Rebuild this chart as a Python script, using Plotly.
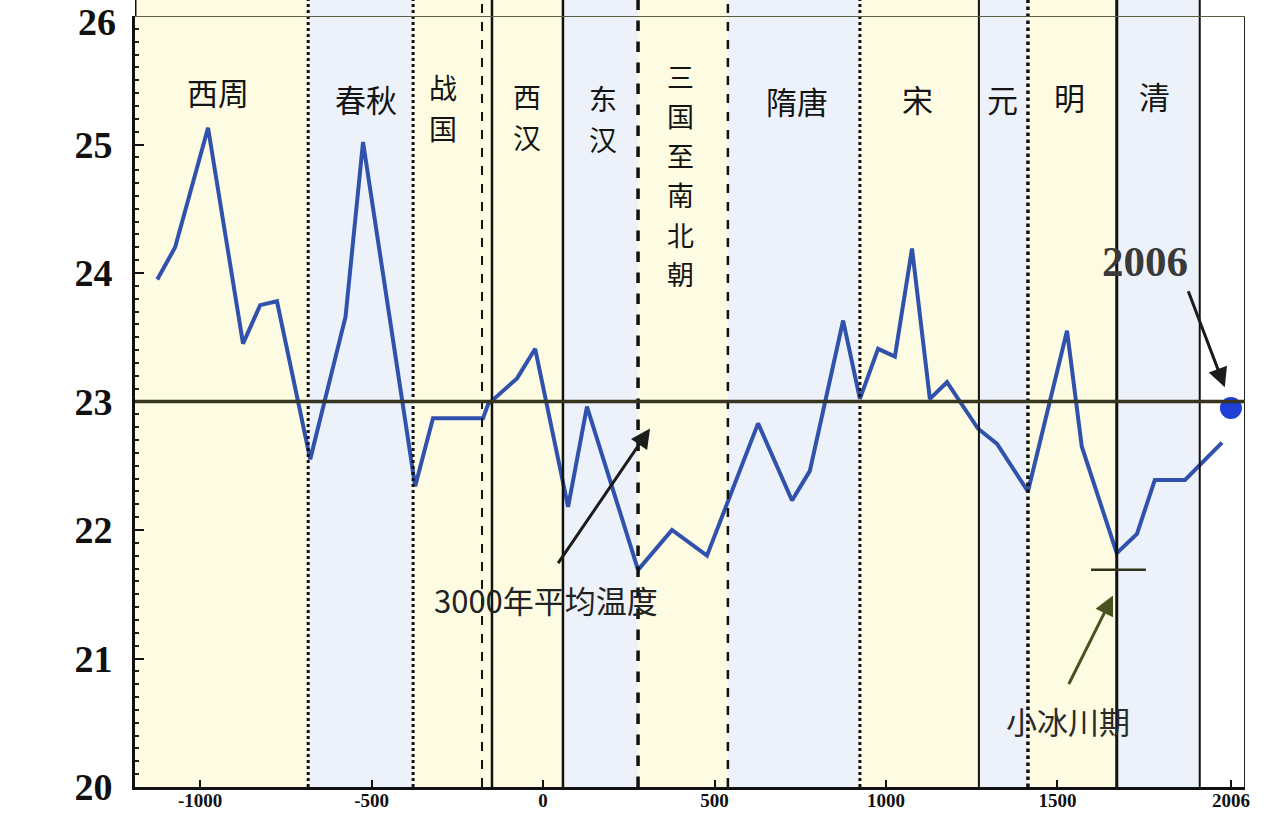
import plotly.graph_objects as go

# ---------------- data ----------------
years = [-1125, -1073, -977, -875, -825, -776, -679, -576, -525, -373, -321, -175, -160,
         -76, -23, 73, 128, 277, 376, 478, 627, 726, 778, 875, 924, 977, 1026, 1076,
         1128, 1178, 1268, 1324, 1414, 1528, 1571, 1673, 1732, 1784, 1872, 1980]
temps = [23.95, 24.20, 25.13, 23.45, 23.75, 23.78, 22.55, 23.66, 25.02, 22.34, 22.87, 22.87,
         22.98, 23.18, 23.41, 22.18, 22.96, 21.69, 22.00, 21.80, 22.83, 22.23, 22.46, 23.63,
         23.02, 23.41, 23.35, 24.19, 23.02, 23.15, 22.79, 22.67, 22.30, 23.55, 22.65, 21.82,
         21.97, 22.39, 22.39, 22.68]

point_2006_year = 2006
point_2006_temp = 22.95
mean_temp = 23.0
little_ice_age_temp = 21.69

periods = ["西周", "春秋", "战国", "西汉", "东汉", "三国至南北朝", "隋唐", "宋", "元", "明", "清"]
period_start = [-1190, -685, -379, -149, 58, 277, 539, 924, 1271, 1414, 1673]
period_end = [-685, -379, -149, 58, 277, 539, 924, 1271, 1414, 1673, 1915]
period_tone = ["y", "b", "y", "y", "b", "y", "b", "y", "b", "y", "b"]

x_tick_vals = [-1000, -500, 0, 500, 1000, 1500, 2006]
x_tick_text = ["-1000", "-500", "0", "500", "1000", "1500", "2006"]
y_tick_vals = [20, 21, 22, 23, 24, 25, 26]
y_tick_text = ["20", "21", "22", "23", "24", "25", "26"]

X_MIN, X_MAX = -1190, 2047
Y_MIN, Y_MAX = 20, 26

# ---------------- styles ----------------
YELLOW = "#FDFCE2"
BLUE = "#EDF2FA"
LINE_BLUE = "#3152AC"
CJK = "Noto Sans CJK SC"
SERIF = "Liberation Serif"
PX_PER_DEG = 128.5  # vertical pixels per degree in the plot area
TOP_PAD = 1 + 16 / 771  # paper fraction reaching the top edge of the figure

fig = go.Figure()

shapes = []
for s, e, t in zip(period_start, period_end, period_tone):
    shapes.append(dict(type="rect", xref="x", yref="paper", x0=s, x1=e, y0=0, y1=TOP_PAD,
                       fillcolor=YELLOW if t == "y" else BLUE, line=dict(width=0), layer="below"))

boundaries = [(-685, "dot", 3), (-379, "dot", 3), (-178, "dash", 2), (-149, "solid", 2.5),
              (58, "solid", 2.5), (277, "dash", 3.5), (539, "dash", 2.5), (924, "dot", 3),
              (1271, "solid", 2), (1414, "dot", 3.5), (1673, "solid", 3), (1915, "solid", 2)]
for bx, dsh, w in boundaries:
    shapes.append(dict(type="line", xref="x", yref="paper", x0=bx, x1=bx, y0=0, y1=TOP_PAD,
                       line=dict(color="#111111", width=w, dash=dsh)))

shapes.append(dict(type="line", xref="x", yref="paper", x0=X_MIN, x1=X_MIN, y0=1, y1=TOP_PAD,
                   line=dict(color="#111111", width=3)))
shapes.append(dict(type="line", xref="x", yref="y", x0=X_MAX, x1=X_MAX, y0=Y_MIN, y1=Y_MAX,
                   line=dict(color="#222222", width=2)))
shapes.append(dict(type="line", xref="x", yref="y", x0=X_MIN, x1=X_MAX, y0=Y_MAX, y1=Y_MAX,
                   line=dict(color="#5c5c40", width=2)))
shapes.append(dict(type="line", xref="x", yref="y", x0=X_MIN, x1=X_MAX, y0=mean_temp, y1=mean_temp,
                   line=dict(color="#37341f", width=3.5)))
shapes.append(dict(type="line", xref="x", yref="y", x0=1598, x1=1758,
                   y0=little_ice_age_temp, y1=little_ice_age_temp,
                   line=dict(color="#2f3318", width=2.5)))

fig.add_trace(go.Scatter(x=years, y=temps, mode="lines",
                         line=dict(color=LINE_BLUE, width=4), hoverinfo="x+y", showlegend=False))
fig.add_trace(go.Scatter(x=[point_2006_year], y=[point_2006_temp], mode="markers",
                         marker=dict(color="#1f3fd6", size=22), showlegend=False))

annotations = []
label_pos = {"西周": (-948, 25.41), "春秋": (-516, 25.36), "隋唐": (741, 25.34),
             "宋": (1093, 25.36), "元": (1341, 25.36), "明": (1536, 25.37), "清": (1784, 25.38)}
vlabel_pos = {"战国": (-292, 25.45, 41), "西汉": (-47, 25.38, 41), "东汉": (175, 25.36, 41),
              "三国至南北朝": (402, 25.53, 39.5)}
for name in periods:
    if name in label_pos:
        px, py = label_pos[name]
        annotations.append(dict(x=px, y=py, xref="x", yref="y", text=name, showarrow=False,
                                font=dict(family=CJK, size=31, color="#141414")))
    else:
        px, py, pitch = vlabel_pos[name]
        fs = 27 if len(name) > 2 else 28
        for i, ch in enumerate(name):
            annotations.append(dict(x=px, y=py - i * pitch / PX_PER_DEG, xref="x", yref="y",
                                    text=ch, showarrow=False,
                                    font=dict(family=CJK, size=fs, color="#141414")))

# top y tick label drawn as an annotation so that it stays inside the figure
annotations.append(dict(x=0, y=1, xref="paper", yref="paper", text=y_tick_text[-1],
                        xanchor="right", yanchor="top", xshift=-18, yshift=16, showarrow=False,
                        borderpad=0,
                        font=dict(family=SERIF, size=38, color="#111111", weight="bold")))

# arrows
annotations.append(dict(x=312, y=22.79, ax=41, ay=21.73, xref="x", yref="y", axref="x", ayref="y",
                        text="", showarrow=True, arrowhead=2, arrowsize=1.3, arrowwidth=3,
                        arrowcolor="#1c1c1c"))
annotations.append(dict(x=1988, y=23.11, ax=1880, ay=23.87, xref="x", yref="y", axref="x", ayref="y",
                        text="", showarrow=True, arrowhead=2, arrowsize=1.3, arrowwidth=3,
                        arrowcolor="#1c1c1c"))
annotations.append(dict(x=1662, y=21.49, ax=1531, ay=20.79, xref="x", yref="y", axref="x", ayref="y",
                        text="", showarrow=True, arrowhead=2, arrowsize=1.3, arrowwidth=3,
                        arrowcolor="#4a5222"))
annotations.append(dict(x=8, y=21.46, xref="x", yref="y", text="3000年平均温度", showarrow=False,
                        font=dict(family=CJK, size=31, color="#222222")))
annotations.append(dict(x=1755, y=24.09, xref="x", yref="y", text="2006", showarrow=False,
                        font=dict(family=SERIF, size=43, color="#3a3a3a", weight="bold")))
annotations.append(dict(x=1531, y=20.52, xref="x", yref="y", text="小冰川期", showarrow=False,
                        font=dict(family=CJK, size=31, color="#2a2a2a")))

fig.update_layout(
    width=1280, height=814,
    margin=dict(l=135, r=35, t=16, b=27),
    paper_bgcolor="white", plot_bgcolor="white",
    shapes=shapes, annotations=annotations,
    showlegend=False,
    xaxis=dict(range=[X_MIN, X_MAX], tickmode="array", tickvals=x_tick_vals, ticktext=x_tick_text,
               showgrid=False, zeroline=False, showline=True, linecolor="#111111", linewidth=2.5,
               ticks="inside", ticklen=7, tickwidth=2, tickcolor="#111111",
               ticklabelstandoff=-6,
               tickfont=dict(family=SERIF, size=19, color="#111111", weight="bold"),
               automargin=False),
    yaxis=dict(range=[Y_MIN, Y_MAX], tickmode="array", tickvals=y_tick_vals,
               ticktext=y_tick_text[:-1] + [""],
               showgrid=False, zeroline=False, showline=True, linecolor="#111111", linewidth=3,
               ticks="inside", ticklen=9, tickwidth=2, tickcolor="#111111",
               minor=dict(ticks="inside", dtick=0.1, ticklen=4, tickwidth=1.5, tickcolor="#222222"),
               ticklabelstandoff=12, ticklabeloverflow="allow",
               tickfont=dict(family=SERIF, size=38, color="#111111", weight="bold"),
               automargin=False),
)

fig.write_html("out.html", config={"displayModeBar": False},
               post_script="document.body.style.margin='0';")
